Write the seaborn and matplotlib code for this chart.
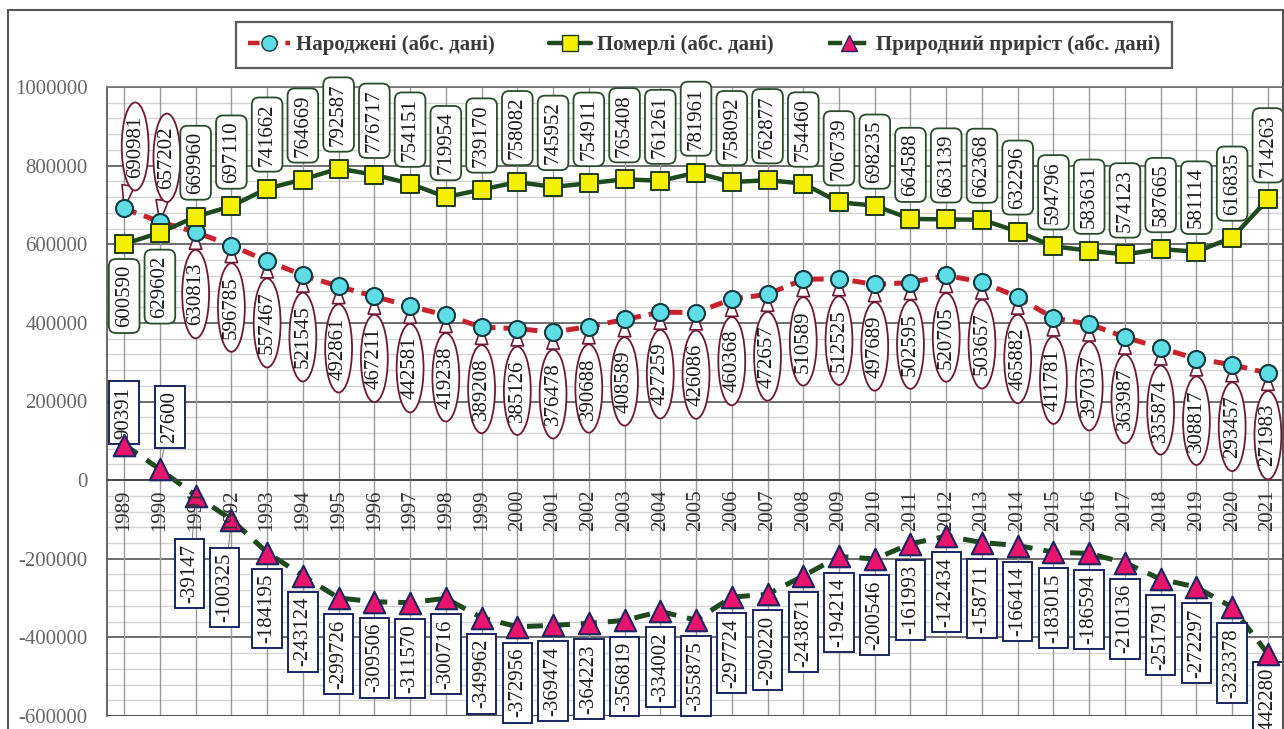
import numpy as np
import pandas as pd
import matplotlib
matplotlib.use("Agg")
import matplotlib.pyplot as plt
from matplotlib.lines import Line2D
from matplotlib.patches import Rectangle
import seaborn as sns

years = list(range(1989, 2022))
births = [690981, 657202, 630813, 596785, 557467, 521545, 492861, 467211, 442581, 419238,
          389208, 385126, 376478, 390688, 408589, 427259, 426086, 460368, 472657, 510589,
          512525, 497689, 502595, 520705, 503657, 465882, 411781, 397037, 363987, 335874,
          308817, 293457, 271983]
deaths = [600590, 629602, 669960, 697110, 741662, 764669, 792587, 776717, 754151, 719954,
          739170, 758082, 745952, 754911, 765408, 761261, 781961, 758092, 762877, 754460,
          706739, 698235, 664588, 663139, 662368, 632296, 594796, 583631, 574123, 587665,
          581114, 616835, 714263]
growth = [90391, 27600, -39147, -100325, -184195, -243124, -299726, -309506, -311570, -300716,
          -349962, -372956, -369474, -364223, -356819, -334002, -355875, -297724, -290220, -243871,
          -194214, -200546, -161993, -142434, -158711, -166414, -183015, -186594, -210136, -251791,
          -272297, -323378, -442280]
series_names = ["Народжені (абс. дані)", "Померлі (абс. дані)", "Природний приріст (абс. дані)"]

df = pd.DataFrame({"year": years, "births": births, "deaths": deaths, "growth": growth})

sns.set_theme(style="white")
plt.rcParams["font.family"] = ["Liberation Serif", "DejaVu Serif"]

W, H = 1284, 729
fig = plt.figure(figsize=(W / 100, H / 100), dpi=100)
ax = fig.add_axes([107 / W, 13 / H, (W - 107) / W, (716 - 87) / H])
ax.spines["bottom"].set_position(("data", 0))

RED = "#C8232C"
CYAN = "#5EDDE6"
DKGREEN = "#1E4A1E"
YELLOW = "#F5F000"
PINK = "#E8146E"
NAVY = "#1C2560"
MAROON = "#6E1838"

# grid drawn manually underneath everything
for v in np.arange(-600000, 1000001, 40000):
    if v % 200000 == 0:
        ax.axhline(v, color="#555555", lw=1.2, zorder=0.2)
    else:
        ax.axhline(v, color="#d4d4d4", lw=1.0, zorder=0.1)
for yr in years:
    ax.axvline(yr, color="#9a9a9a", lw=1.0, zorder=0.3)

# lines
sns.lineplot(data=df, x="year", y="births", ax=ax, color=RED, lw=3.6,
             linestyle=(0, (2.6, 1.6)), zorder=2)
sns.lineplot(data=df, x="year", y="deaths", ax=ax, color=DKGREEN, lw=3.2, zorder=2)
sns.lineplot(data=df, x="year", y="growth", ax=ax, color=DKGREEN, lw=3.6,
             linestyle=(0, (3.2, 2.2)), zorder=2)

# labels
PX = 0.72
FS = 15

def lab(x, y, v, dy, dx, kind):
    if kind == "b":
        bb = dict(boxstyle="ellipse,pad=0.0", fc="white", ec=MAROON, lw=1.3)
        ap = dict(arrowstyle="wedge,tail_width=0.6,shrink_factor=0.5", fc="white",
                  ec=MAROON, lw=1.2, shrinkA=0, shrinkB=0)
    elif kind == "d":
        bb = dict(boxstyle="round,pad=0.28,rounding_size=0.35", fc="white", ec="#2E4A2E", lw=1.3)
        ap = None
    else:
        bb = dict(boxstyle="square,pad=0.25", fc="white", ec=NAVY, lw=1.4)
        ap = dict(arrowstyle="-", color="#888", lw=0.8, shrinkA=0, shrinkB=8) if abs(dy) > 60 or dx else None
    ax.annotate(str(v), (x, y), xytext=(dx * PX, dy * PX), textcoords="offset points",
                rotation=90, ha="center", va="center", fontsize=FS, color="#1a1a1a",
                bbox=bb, arrowprops=ap, zorder=3)

b_off = {1989: (62, 11), 1990: (64, 7)}
d_off = {1989: (-52, 0), 1990: (-54, 0)}
g_off = {1989: (32, 0), 1990: (52, 10), 1991: (-78, -6), 1992: (-68, -7), 2021: (-48, 0)}

for i, yr in enumerate(years):
    dy, dx = b_off.get(yr, (-62, 0))
    lab(yr, births[i], births[i], dy, dx, "b")
    dy, dx = d_off.get(yr, (54, 0))
    lab(yr, deaths[i], deaths[i], dy, dx, "d")
    dy, dx = g_off.get(yr, (-56, 0))
    lab(yr, growth[i], growth[i], dy, dx, "g")

# markers on top
sns.scatterplot(data=df, x="year", y="births", ax=ax, marker="o", s=150, color=CYAN,
                edgecolor="#123a40", linewidth=1.5, zorder=4)
sns.scatterplot(data=df, x="year", y="deaths", ax=ax, marker="s", s=150, color=YELLOW,
                edgecolor="#1E3A1E", linewidth=1.4, zorder=4)
sns.scatterplot(data=df, x="year", y="growth", ax=ax, marker="^", s=240, color=PINK,
                edgecolor=NAVY, linewidth=1.5, zorder=3.5)

# axes styling
ax.set_xlim(1988.52, 2021.45)
ax.set_ylim(-600000, 1000000)
ax.set_yticks(np.arange(-600000, 1000001, 200000))
ax.set_xticks(years)
ax.set_xticklabels([str(y) for y in years], rotation=90, fontsize=15, color="#333333",
                   va="top", ha="center")
ax.set_yticklabels([str(v) for v in range(-600000, 1000001, 200000)], fontsize=15, color="#666666")
ax.tick_params(axis="x", length=0, pad=7)
ax.tick_params(axis="y", which="both", length=0, pad=14)
ax.grid(False)
ax.set_axisbelow(False)
ax.xaxis.set_zorder(3.8)
ax.spines["bottom"].set_color("#444444")
ax.spines["left"].set_color("#555555")
ax.spines["top"].set_color("#777777")
ax.spines["right"].set_visible(False)
ax.axhline(-600000, color="#555555", lw=1.5, zorder=1)
ax.set_xlabel("")
ax.set_ylabel("")

# legend
handles = [
    Line2D([0], [0], color=RED, lw=3.2, linestyle=(0, (2.6, 1.6)), marker="o", markersize=11,
           markerfacecolor=CYAN, markeredgecolor="#123a40"),
    Line2D([0], [0], color=DKGREEN, lw=3.2, marker="s", markersize=11,
           markerfacecolor=YELLOW, markeredgecolor="#1E3A1E"),
    Line2D([0], [0], color=DKGREEN, lw=3.2, linestyle=(0, (3.2, 2.2)), marker="^", markersize=12,
           markerfacecolor=PINK, markeredgecolor=NAVY),
]
leg = fig.legend(handles, series_names, loc="center", bbox_to_anchor=(704 / W, 1 - 45 / H),
                 ncol=3, frameon=True, fancybox=False, edgecolor="#333333",
                 handlelength=2.0, columnspacing=2.6, handletextpad=0.3, borderpad=0.6,
                 prop={"family": ["Liberation Serif", "DejaVu Serif"], "weight": "bold", "size": 15})
leg.get_frame().set_linewidth(1.6)
for t in leg.get_texts():
    t.set_color("#3a3a3a")

# outer frame
fig.add_artist(Rectangle((8 / W, -0.05), (1283 - 8) / W, (H - 10) / H + 0.05,
                         transform=fig.transFigure, fill=False, ec="#555555", lw=1.5))

fig.savefig("out.png", dpi=100)
